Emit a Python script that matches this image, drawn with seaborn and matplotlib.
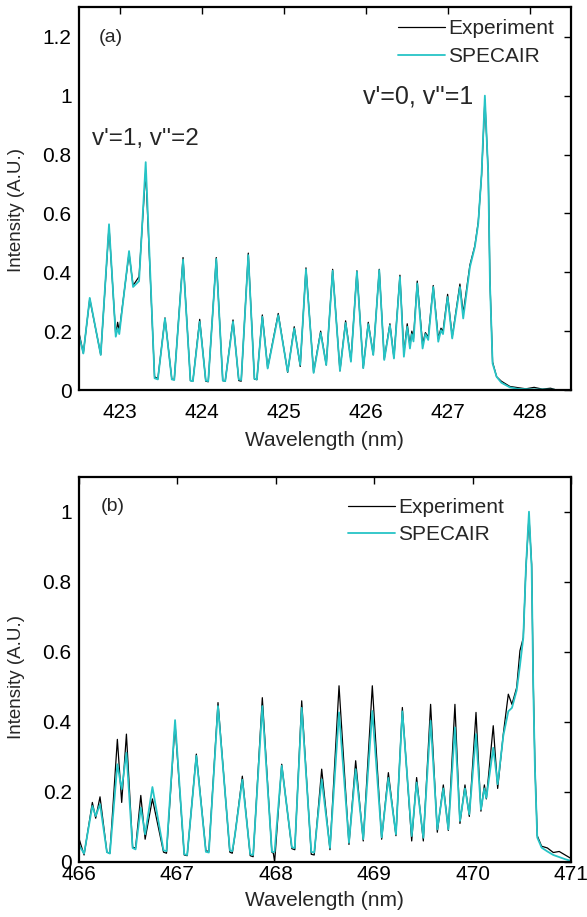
import matplotlib
matplotlib.use("Agg")
import matplotlib.pyplot as plt
import seaborn as sns
import pandas as pd

# ---------------- data: panel (a) ----------------
wl_a = [422.500, 422.557, 422.635, 422.769, 422.870, 422.952, 422.975, 422.995, 423.114, 423.163,
        423.236, 423.317, 423.425, 423.465, 423.552, 423.635, 423.665, 423.772, 423.862, 423.892,
        423.975, 424.049, 424.079, 424.177, 424.256, 424.286, 424.381, 424.451, 424.481, 424.567,
        424.642, 424.672, 424.738, 424.803, 424.932, 425.047, 425.127, 425.200, 425.270, 425.363,
        425.449, 425.517, 425.595, 425.684, 425.753, 425.818, 425.891, 425.968, 426.029, 426.090,
        426.163, 426.224, 426.293, 426.342, 426.415, 426.463, 426.504, 426.537, 426.560, 426.580,
        426.626, 426.691, 426.725, 426.760, 426.821, 426.882, 426.915, 426.940, 426.996, 427.052,
        427.146, 427.186, 427.268, 427.328, 427.369, 427.410, 427.450, 427.491, 427.512, 427.544,
        427.593, 427.650, 427.755, 427.850, 427.950, 428.050, 428.150, 428.250, 428.300]
sim_a = [0.190, 0.124, 0.313, 0.119, 0.563, 0.181, 0.210, 0.190, 0.472, 0.350,
         0.370, 0.774, 0.040, 0.036, 0.243, 0.036, 0.034, 0.443, 0.032, 0.030,
         0.232, 0.032, 0.030, 0.445, 0.032, 0.030, 0.232, 0.036, 0.034, 0.458,
         0.038, 0.036, 0.249, 0.073, 0.254, 0.062, 0.209, 0.085, 0.410, 0.058,
         0.194, 0.085, 0.405, 0.065, 0.228, 0.096, 0.402, 0.074, 0.224, 0.119,
         0.407, 0.102, 0.220, 0.107, 0.384, 0.113, 0.215, 0.141, 0.190, 0.165,
         0.362, 0.141, 0.190, 0.170, 0.350, 0.164, 0.203, 0.190, 0.316, 0.175,
         0.350, 0.243, 0.418, 0.486, 0.565, 0.734, 1.000, 0.734, 0.362, 0.090,
         0.045, 0.025, 0.009, 0.004, 0.003, 0.002, 0.002, 0.001, 0.001]
exp_a = [0.200, 0.125, 0.310, 0.120, 0.555, 0.185, 0.230, 0.200, 0.465, 0.355,
         0.385, 0.745, 0.045, 0.038, 0.245, 0.037, 0.035, 0.450, 0.032, 0.030,
         0.240, 0.030, 0.028, 0.450, 0.032, 0.030, 0.238, 0.032, 0.030, 0.465,
         0.037, 0.035, 0.255, 0.075, 0.260, 0.060, 0.215, 0.080, 0.415, 0.060,
         0.200, 0.085, 0.410, 0.065, 0.235, 0.100, 0.405, 0.075, 0.230, 0.120,
         0.410, 0.105, 0.225, 0.110, 0.390, 0.125, 0.225, 0.150, 0.200, 0.175,
         0.370, 0.155, 0.195, 0.180, 0.355, 0.175, 0.210, 0.200, 0.325, 0.180,
         0.360, 0.260, 0.425, 0.490, 0.570, 0.730, 0.985, 0.740, 0.370, 0.095,
         0.045, 0.030, 0.012, 0.008, 0.004, 0.009, 0.003, 0.006, 0.002]

# ---------------- data: panel (b) ----------------
wl_b = [466.000, 466.055, 466.139, 466.173, 466.217, 466.287, 466.317, 466.393, 466.437, 466.485,
        466.548, 466.578, 466.631, 466.675, 466.749, 466.862, 466.892, 466.979, 467.072, 467.102,
        467.195, 467.292, 467.322, 467.415, 467.535, 467.560, 467.588, 467.662, 467.742, 467.772,
        467.865, 467.962, 467.977, 467.990, 468.062, 468.165, 468.195, 468.265, 468.362, 468.392,
        468.468, 468.552, 468.644, 468.745, 468.813, 468.890, 468.982, 469.077, 469.145, 469.222,
        469.287, 469.382, 469.432, 469.500, 469.574, 469.642, 469.703, 469.754, 469.821, 469.872,
        469.923, 469.967, 470.035, 470.085, 470.120, 470.140, 470.210, 470.255, 470.312, 470.363,
        470.400, 470.448, 470.481, 470.515, 470.542, 470.573, 470.600, 470.616, 470.633, 470.657,
        470.701, 470.760, 470.820, 470.880, 470.940, 471.000]
sim_b = [0.050, 0.024, 0.160, 0.131, 0.165, 0.028, 0.024, 0.279, 0.208, 0.312,
         0.040, 0.036, 0.155, 0.079, 0.214, 0.033, 0.031, 0.405, 0.022, 0.020,
         0.303, 0.029, 0.027, 0.445, 0.033, 0.031, 0.079, 0.235, 0.022, 0.020,
         0.445, 0.030, 0.028, 0.030, 0.275, 0.042, 0.040, 0.440, 0.029, 0.027,
         0.236, 0.040, 0.427, 0.055, 0.265, 0.065, 0.431, 0.070, 0.240, 0.079,
         0.430, 0.074, 0.227, 0.069, 0.403, 0.093, 0.210, 0.093, 0.384, 0.117,
         0.210, 0.136, 0.365, 0.150, 0.210, 0.183, 0.326, 0.222, 0.360, 0.430,
         0.440, 0.490, 0.560, 0.640, 0.840, 1.000, 0.840, 0.508, 0.270, 0.070,
         0.041, 0.030, 0.020, 0.014, 0.008, 0.003]
exp_b = [0.070, 0.020, 0.170, 0.125, 0.186, 0.028, 0.025, 0.350, 0.170, 0.365,
         0.042, 0.040, 0.190, 0.065, 0.180, 0.028, 0.025, 0.394, 0.020, 0.018,
         0.308, 0.032, 0.030, 0.455, 0.028, 0.025, 0.079, 0.245, 0.018, 0.015,
         0.469, 0.028, 0.025, 0.000, 0.279, 0.038, 0.035, 0.460, 0.022, 0.020,
         0.265, 0.035, 0.503, 0.050, 0.289, 0.060, 0.503, 0.065, 0.255, 0.075,
         0.441, 0.060, 0.241, 0.060, 0.450, 0.085, 0.220, 0.090, 0.450, 0.110,
         0.220, 0.130, 0.427, 0.145, 0.220, 0.180, 0.389, 0.210, 0.365, 0.479,
         0.450, 0.498, 0.603, 0.640, 0.840, 0.985, 0.850, 0.520, 0.280, 0.075,
         0.045, 0.040, 0.027, 0.030, 0.020, 0.010]

xticks_a = [423, 424, 425, 426, 427, 428]
yticks_a = [0, 0.2, 0.4, 0.6, 0.8, 1.0, 1.2]
ytick_labels_a = ["0", "0.2", "0.4", "0.6", "0.8", "1", "1.2"]
xticks_b = [466, 467, 468, 469, 470, 471]
yticks_b = [0, 0.2, 0.4, 0.6, 0.8, 1.0]
ytick_labels_b = ["0", "0.2", "0.4", "0.6", "0.8", "1"]
series_names = ["Experiment", "SPECAIR"]

sns.set_theme(style="white")
plt.rcParams["font.family"] = ["Liberation Sans", "DejaVu Sans"]

CYAN = "#26c4c6"
fig = plt.figure(figsize=(5.87, 9.17), dpi=100)
ax1 = fig.add_axes([0.134, 0.5747, 0.8388, 0.4173])
ax2 = fig.add_axes([0.134, 0.0600, 0.8388, 0.4202])


def draw(ax, wl, expv, simv):
    df = pd.DataFrame({"wl": wl, "Experiment": expv, "SPECAIR": simv})
    sns.lineplot(data=df, x="wl", y="Experiment", ax=ax, color="black", lw=0.9,
                 estimator=None, sort=False, label=series_names[0])
    sns.lineplot(data=df, x="wl", y="SPECAIR", ax=ax, color=CYAN, lw=1.3,
                 estimator=None, sort=False, label=series_names[1])
    for s in ax.spines.values():
        s.set_linewidth(1.6)
        s.set_color("black")
    ax.tick_params(direction="in", length=5, width=1, top=True, right=True,
                   labelsize=15, colors="black")
    ax.tick_params(axis="y", pad=5)
    ax.set_xlabel("Wavelength (nm)", fontsize=15)
    ax.set_ylabel("Intensity (A.U.)", fontsize=13.5)


draw(ax1, wl_a, exp_a, sim_a)
ax1.set_xlim(422.5, 428.5)
ax1.set_ylim(0, 1.3)
ax1.set_xticks(xticks_a)
ax1.set_yticks(yticks_a)
ax1.set_yticklabels(ytick_labels_a)
ax1.tick_params(axis="x", pad=9)
ax1.xaxis.set_label_coords(0.5, -0.107)
ax1.yaxis.set_label_coords(-0.109, 0.47)
ax1.text(422.74, 1.197, "(a)", fontsize=14, va="center", ha="left")
ax1.text(422.66, 0.854, "v'=1, v''=2", fontsize=17.5, va="center", ha="left")
ax1.text(425.96, 0.997, "v'=0, v''=1", fontsize=18, va="center", ha="left")
ax1.legend(loc="upper left", bbox_to_anchor=(0.649, 0.97), frameon=False, fontsize=15,
           handlelength=2.25, handletextpad=0.15, labelspacing=0.45, borderpad=0,
           borderaxespad=0)

draw(ax2, wl_b, exp_b, sim_b)
ax2.set_xlim(466, 471)
ax2.set_ylim(0, 1.1)
ax2.set_xticks(xticks_b)
ax2.set_yticks(yticks_b)
ax2.set_yticklabels(ytick_labels_b)
ax2.tick_params(axis="x", pad=2)
ax2.xaxis.set_label_coords(0.5, -0.075)
ax2.yaxis.set_label_coords(-0.109, 0.48)
ax2.text(466.22, 1.014, "(b)", fontsize=14, va="center", ha="left")
ax2.legend(loc="upper left", bbox_to_anchor=(0.547, 0.945), frameon=False, fontsize=15,
           handlelength=2.25, handletextpad=0.15, labelspacing=0.4, borderpad=0,
           borderaxespad=0)

fig.savefig("out.png", dpi=100)
